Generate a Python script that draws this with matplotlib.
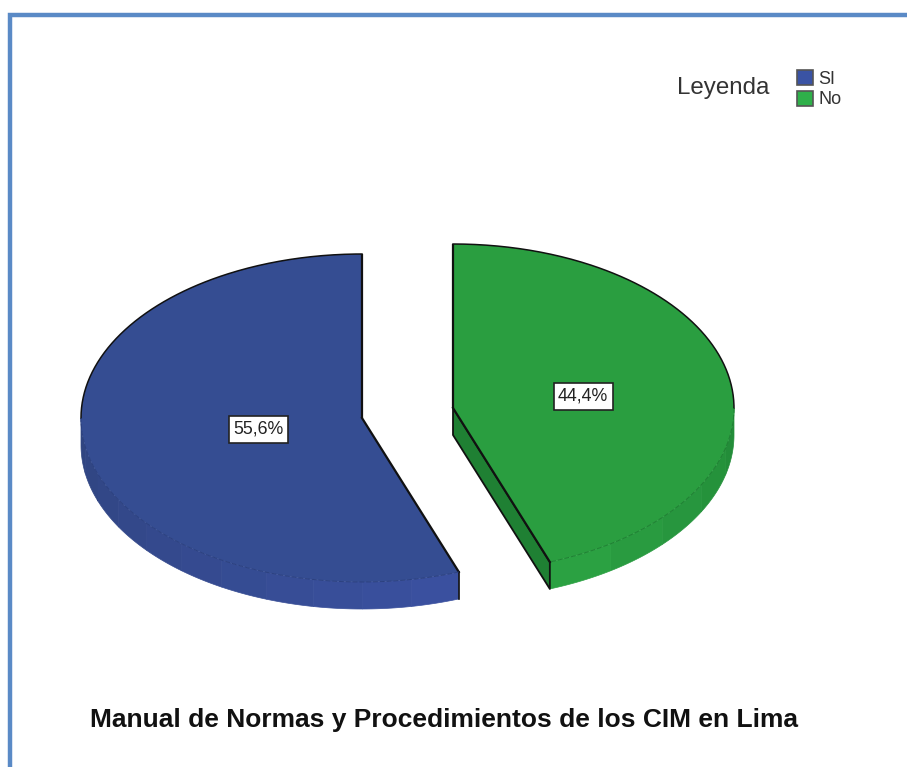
import matplotlib
matplotlib.use('Agg')
import matplotlib.pyplot as plt
import matplotlib.colors as mcolors
from matplotlib.patches import Polygon, Rectangle
import numpy as np

labels = ['SI', 'No']
shares = [55.6, 44.4]
share_text = ['55,6%', '44,4%']
title = 'Manual de Normas y Procedimientos de los CIM en Lima'
legend_title = 'Leyenda'

top_colors = ['#354d92', '#2a9e40']
legend_colors = ['#3a53a4', '#2fb04a']
dark_colors = ['#2c4180', '#1f8033']
wall_light = ['#3a51a0', '#2ca343']
wall_dark = ['#2f4480', '#228a38']

# pie layout in pixels
RX = 281
RY = 164
DEPTH = 27
CENTERS = [(362, 418), (453, 408)]
LABEL_POS = [(258, 429), (583, 396)]

plt.rcParams['font.family'] = ['Liberation Sans', 'DejaVu Sans']

fig = plt.figure(figsize=(9.07, 7.67), dpi=100)
ax = fig.add_axes([0, 0, 1, 1])
ax.set_xlim(0, 907)
ax.set_ylim(767, 0)
ax.axis('off')

# blue frame, open on the right and bottom
ax.plot([9.5, 9.5, 907], [767, 14.5, 14.5], color='#5a8ac6', lw=3.2,
        solid_joinstyle='miter', solid_capstyle='butt')


def arc(center, t0, t1, n=200):
    # t is clockwise from the top, in degrees
    t = np.radians(np.linspace(t0, t1, n))
    return center[0] + RX * np.sin(t), center[1] - RY * np.cos(t)


# turn the shares into angles, the first slice runs counter clockwise from 12
sweep = [s / sum(shares) * 360 for s in shares]
ranges = [(-sweep[0], 0), (0, sweep[1])]

for i in range(len(shares)):
    c = CENTERS[i]
    t0, t1 = ranges[i]

    # outer wall, split into shaded bands
    if i == 0:
        edges = np.linspace(-90, t0, 12)
    else:
        edges = np.linspace(90, t1, 6)
    for j in range(len(edges) - 1):
        x, y = arc(c, edges[j], edges[j + 1], 30)
        xs = np.concatenate([x, x[::-1]])
        ys = np.concatenate([y, y[::-1] + DEPTH])
        f = (j + 0.5) / (len(edges) - 1)
        col = np.array(mcolors.to_rgb(wall_dark[i])) * (1 - f) + np.array(mcolors.to_rgb(wall_light[i])) * f
        ax.add_patch(Polygon(np.column_stack([xs, ys]), closed=True, fc=col, ec=col, lw=0.5))

    # cut face of the green slice shows on the left of the gap
    if i == 1:
        xe, ye = arc(c, t1, t1, 1)
        face = [(c[0], c[1]), (xe[0], ye[0]), (xe[0], ye[0] + DEPTH), (c[0], c[1] + DEPTH)]
        ax.add_patch(Polygon(face, closed=True, fc=dark_colors[i], ec='#111111', lw=1.3, joinstyle='round'))
    else:
        xe, ye = arc(c, t0, t0, 1)
        ax.plot([xe[0], xe[0]], [ye[0], ye[0] + DEPTH], color='#111111', lw=1.2)

    # top face
    x, y = arc(c, t0, t1)
    pts = np.column_stack([np.append(x, c[0]), np.append(y, c[1])])
    ax.add_patch(Polygon(pts, closed=True, fc=top_colors[i], ec='none'))

    # black edges: two radii and the back of the rim
    if i == 0:
        xb, yb = arc(c, -90, 0)
        xr, yr = arc(c, t0, t0, 1)
    else:
        xb, yb = arc(c, 0, 90)
        xr, yr = arc(c, t1, t1, 1)
    ax.plot(xb, yb, color='#111111', lw=1.1)
    ax.plot([c[0], c[0]], [c[1], c[1] - RY], color='#111111', lw=1.6, solid_capstyle='butt')
    ax.plot([c[0], xr[0]], [c[1], yr[0]], color='#111111', lw=1.6)

    # thin seam between top and wall
    xs, ys = arc(c, t0, -90) if i == 0 else arc(c, 90, t1)
    ax.plot(xs, ys, color=dark_colors[i], lw=0.7, ls=(0, (5, 2)))

    # value box
    lx, ly = LABEL_POS[i]
    ax.add_patch(Rectangle((lx - 29.5, ly - 13.5), 59, 27, fc='white', ec='#222222', lw=1.2, zorder=4))
    ax.text(lx, ly, share_text[i], ha='center', va='center', fontsize=12.8, color='#222222', zorder=5)

ax.text(444, 720, title, ha='center', va='center', fontsize=19, fontweight='bold', color='#111111')

# legend
ax.text(723, 88, legend_title, ha='center', va='center', fontsize=17.4, color='#333333')
for i in range(len(labels)):
    y = 70 + i * 21
    ax.add_patch(Rectangle((797, y), 16, 15, fc=legend_colors[i], ec='#555555', lw=1.2))
    ax.text(818, y + 9, labels[i], ha='left', va='center', fontsize=13, color='#333333')

fig.savefig('out.png', dpi=100)
